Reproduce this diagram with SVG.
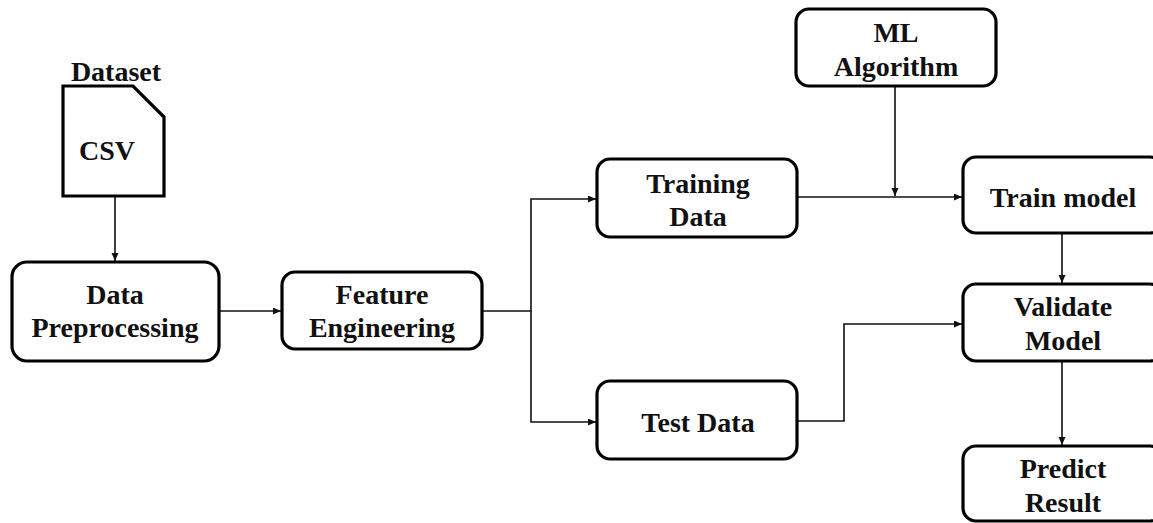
<svg xmlns="http://www.w3.org/2000/svg" width="1153" height="523" viewBox="0 0 1153 523">
<style>
.box{fill:#fff;stroke:#000;stroke-width:3.2}
.t{font-family:"Liberation Serif","Times New Roman",serif;font-weight:bold;font-size:28px;fill:#111;text-anchor:middle}
.c{fill:none;stroke:#111;stroke-width:1.6}
</style>
<defs>
<marker id="ah" markerUnits="userSpaceOnUse" markerWidth="9" markerHeight="8" refX="8" refY="3.5" orient="auto">
<path d="M0,0 L8,3.5 L0,7 Z" fill="#111"/>
</marker>
</defs>
<rect width="1153" height="523" fill="#fff"/>
<g id="connectors">
<path class="c" d="M115,196 V261" marker-end="url(#ah)"/>
<path class="c" d="M219,311 H281" marker-end="url(#ah)"/>
<path class="c" d="M482,311 H531 V199 H596" marker-end="url(#ah)"/>
<path class="c" d="M531,311 V422 H596" marker-end="url(#ah)"/>
<path class="c" d="M797,197 H962" marker-end="url(#ah)"/>
<path class="c" d="M895,86 V196" marker-end="url(#ah)"/>
<path class="c" d="M1062,233 V283" marker-end="url(#ah)"/>
<path class="c" d="M797,421 H844 V324 H962" marker-end="url(#ah)"/>
<path class="c" d="M1062,361 V445" marker-end="url(#ah)"/>
</g>
<g id="dataset">
<path class="box" d="M63,86 H133 L164,117 V196 H63 Z"/>
<text class="t" x="116" y="81">Dataset</text>
<text class="t" x="107" y="160">CSV</text>
</g>
<g id="data-preprocessing">
<rect class="box" x="12" y="262" width="207" height="99" rx="15"/>
<text class="t" x="115" y="304">Data</text>
<text class="t" x="115" y="337">Preprocessing</text>
</g>
<g id="feature-engineering">
<rect class="box" x="282" y="272" width="200" height="77" rx="13"/>
<text class="t" x="382" y="304">Feature</text>
<text class="t" x="382" y="337">Engineering</text>
</g>
<g id="training-data">
<rect class="box" x="597" y="159" width="200" height="78" rx="13"/>
<text class="t" x="698" y="193">Training</text>
<text class="t" x="698" y="226">Data</text>
</g>
<g id="test-data">
<rect class="box" x="597" y="381" width="200" height="78" rx="13"/>
<text class="t" x="698" y="432">Test Data</text>
</g>
<g id="ml-algorithm">
<rect class="box" x="796" y="9" width="200" height="77" rx="13"/>
<text class="t" x="896" y="42">ML</text>
<text class="t" x="896" y="76">Algorithm</text>
</g>
<g id="train-model">
<rect class="box" x="963" y="157" width="200" height="76" rx="13"/>
<text class="t" x="1063" y="207">Train model</text>
</g>
<g id="validate-model">
<rect class="box" x="963" y="284" width="200" height="77" rx="13"/>
<text class="t" x="1063" y="316">Validate</text>
<text class="t" x="1063" y="350">Model</text>
</g>
<g id="predict-result">
<rect class="box" x="963" y="446" width="200" height="75" rx="13"/>
<text class="t" x="1063" y="478">Predict</text>
<text class="t" x="1063" y="512">Result</text>
</g>
</svg>
